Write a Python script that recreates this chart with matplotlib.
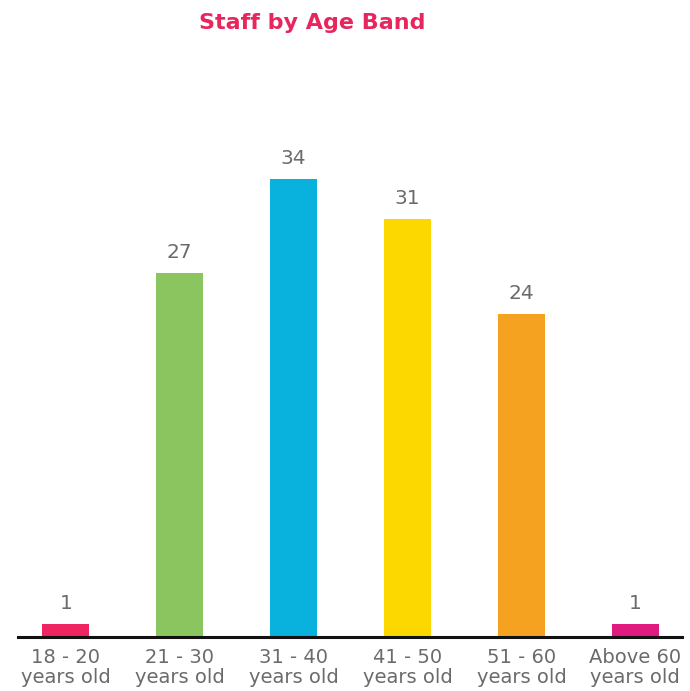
import matplotlib
matplotlib.use("Agg")
import matplotlib.pyplot as plt

categories = ["18 - 20\nyears old", "21 - 30\nyears old", "31 - 40\nyears old",
              "41 - 50\nyears old", "51 - 60\nyears old", "Above 60\nyears old"]
staff = [1, 27, 34, 31, 24, 1]
colors = ["#EE2560", "#8BC55F", "#08B2DD", "#FCD800", "#F6A221", "#DF1B7F"]

plt.rcParams["font.family"] = ["DejaVu Sans"]

fig = plt.figure(figsize=(6.9, 6.91), dpi=100)
ax = fig.add_axes([18 / 690, 54 / 691, 664 / 690, 539 / 691])

x = range(len(staff))
ax.bar(x, staff, width=0.41, color=colors)
for i, v in enumerate(staff):
    ax.text(i, v + 0.8, str(v), ha="center", va="bottom", fontsize=14.5, color="#6b6b6b")

ax.set_xlim(-0.42, 5.41)
ax.set_ylim(0, 40)
ax.set_xticks(list(x))
ax.set_xticklabels(categories, fontsize=14, color="#6b6b6b", linespacing=1.08)
ax.tick_params(axis="x", length=0, pad=8)
ax.set_yticks([])
for s in ["top", "left", "right"]:
    ax.spines[s].set_visible(False)
ax.spines["bottom"].set_linewidth(2.2)
ax.spines["bottom"].set_color("#111111")

fig.text(312 / 690, 1 - 23 / 691, "Staff by Age Band", ha="center", va="center",
         fontsize=16, fontweight="bold", color="#E8265E")

fig.savefig("out.png", dpi=100)
